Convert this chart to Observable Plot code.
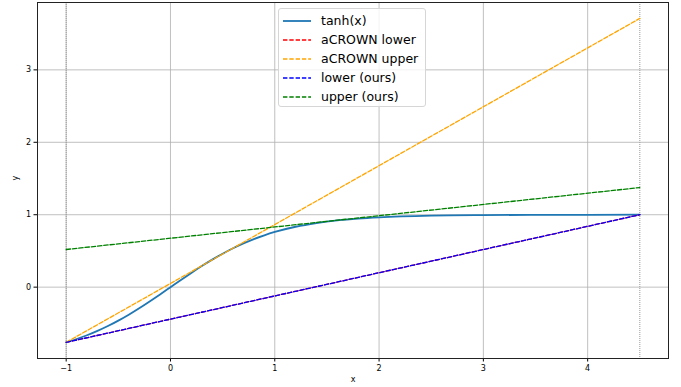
<!DOCTYPE html>
<html>
<head>
<meta charset="utf-8">
<script src="https://cdn.jsdelivr.net/npm/d3@7"></script>
<script src="https://cdn.jsdelivr.net/npm/@observablehq/plot@0.6"></script>
<style>
  body { margin: 0; background: white; font-family: "DejaVu Sans", sans-serif; }
  #wrap { position: relative; width: 681px; height: 387px; }
  #legend { position: absolute; left: 278px; top: 8px; width: 148px; height: 99px;
    border: 1px solid #d6d6d6; border-radius: 3px; background: rgba(255,255,255,0.8);
    box-sizing: border-box; font-size: 12.5px; color: #000; }
  .row { position: absolute; left: 3px; height: 19px; display: flex; align-items: center; }
  .row span { margin-left: 9px; white-space: nowrap; }
</style>
</head>
<body>
<div id="wrap"><div id="legend"></div></div>
<script>
// tanh(x) curve values
const curveX = [-1.0,-0.9,-0.8,-0.7,-0.6,-0.5,-0.4,-0.3,-0.2,-0.1,0,0.1,0.2,0.3,0.4,0.5,0.6,0.7,0.8,0.9,1.0,1.2,1.4,1.6,1.8,2.0,2.5,3.0,3.5,4.0,4.5];
const curveY = [-0.762,-0.716,-0.664,-0.604,-0.537,-0.462,-0.380,-0.291,-0.197,-0.100,0,0.100,0.197,0.291,0.380,0.462,0.537,0.604,0.664,0.716,0.762,0.834,0.885,0.922,0.947,0.964,0.987,0.995,0.998,0.999,1.000];
// bound lines: endpoints at x = -1 and x = 4.5
const boundX = [-1, 4.5];
const acrownLower = [-0.762, 1.000];
const acrownUpper = [-0.762, 3.71];
const oursLower = [-0.762, 1.000];
const oursUpper = [0.52, 1.375];
const xTicks = [-1, 0, 1, 2, 3, 4];
const yTicks = [0, 1, 2, 3];
const series = [
  {name: "tanh(x)", color: "#1f77b4", dash: null},
  {name: "aCROWN lower", color: "red", dash: "4.4,1.9"},
  {name: "aCROWN upper", color: "orange", dash: "4.4,1.9"},
  {name: "lower (ours)", color: "blue", dash: "4.4,1.9"},
  {name: "upper (ours)", color: "green", dash: "4.4,1.9"}
];

const tanhData = curveX.map((x, i) => ({x, y: curveY[i]}));
const mk = arr => boundX.map((x, i) => ({x, y: arr[i]}));
const fmt = d => d < 0 ? "\u2212" + Math.abs(d) : String(d);

const dashed = (arr, color) => Plot.line(mk(arr), {x: "x", y: "y", stroke: color, strokeWidth: 1.3, strokeDasharray: "4.4,1.9"});

const chart = Plot.plot({
  width: 681, height: 387,
  marginLeft: 37, marginRight: 13, marginTop: 2, marginBottom: 29,
  style: {fontFamily: "DejaVu Sans, sans-serif", fontSize: "8px", color: "#000", background: "white"},
  x: {domain: [-1.275, 4.775], label: null},
  y: {domain: [-0.985, 3.93], label: null},
  marks: [
    Plot.gridX(xTicks, {stroke: "#b0b0b0", strokeOpacity: 1, strokeWidth: 0.8}),
    Plot.gridY(yTicks, {stroke: "#b0b0b0", strokeOpacity: 1, strokeWidth: 0.8}),
    Plot.ruleX(boundX, {stroke: "#999", strokeWidth: 1, strokeDasharray: "1,1"}),
    Plot.line(tanhData, {x: "x", y: "y", stroke: "#1f77b4", strokeWidth: 1.8, curve: "monotone-x"}),
    dashed(acrownLower, "red"),
    dashed(acrownUpper, "orange"),
    dashed(oursLower, "blue"),
    dashed(oursUpper, "green"),
    Plot.axisX(xTicks, {tickSize: 3.5, tickPadding: 3, tickFormat: fmt, label: null, fontSize: 8}),
    Plot.axisY(yTicks, {tickSize: 3.5, tickPadding: 3, tickFormat: fmt, label: null, fontSize: 8}),
    Plot.frame({stroke: "#222", strokeWidth: 1}),
    Plot.text(["x"], {frameAnchor: "bottom", dy: 23, fontSize: 8}),
    Plot.text(["y"], {frameAnchor: "left", dx: -22, rotate: -90, fontSize: 8})
  ]
});
document.getElementById("wrap").prepend(chart);

const leg = document.getElementById("legend");
series.forEach((s, i) => {
  const row = document.createElement("div");
  row.className = "row";
  row.style.top = (2 + i * 19) + "px";
  const dash = s.dash ? ` stroke-dasharray="${s.dash}"` : "";
  const w = s.dash ? 1.3 : 1.8;
  row.innerHTML = `<svg width="30" height="10"><line x1="1" y1="5" x2="29" y2="5" stroke="${s.color}" stroke-width="${w}"${dash}/></svg><span>${s.name}</span>`;
  leg.appendChild(row);
});
</script>
</body>
</html>
